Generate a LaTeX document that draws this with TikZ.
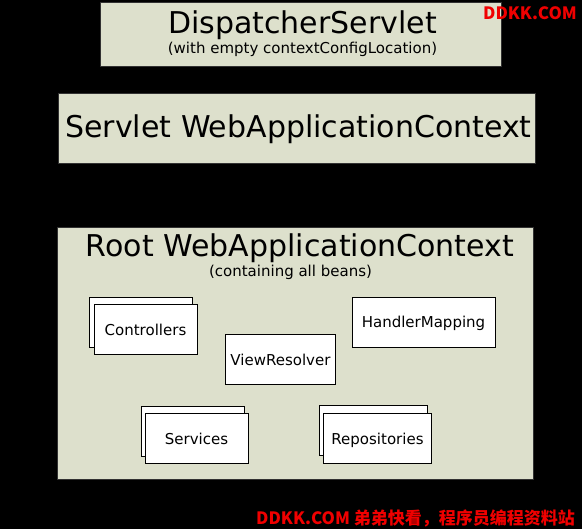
\documentclass[tikz,border=0pt]{standalone}
\usepackage{fontspec}
\setmainfont{DejaVu Sans}
\newfontfamily\cjk{Noto Sans CJK SC}
\definecolor{ctxfill}{RGB}{221,224,204}
\definecolor{ctxline}{RGB}{50,50,50}
\definecolor{wm}{RGB}{240,0,0}
\begin{document}
\begin{tikzpicture}[x=1pt,y=-1pt,
  ctx/.style={draw=ctxline, line width=1pt, fill=ctxfill, inner sep=0pt, anchor=north west},
  bean/.style={draw=black, line width=1pt, fill=white, inner sep=0pt, anchor=north west},
  big/.style={font=\fontsize{30}{30}\selectfont, anchor=base, inner sep=0pt},
  sub/.style={font=\fontsize{15}{15}\selectfont, anchor=base, inner sep=0pt},
  lbl/.style={font=\fontsize{15}{15}\selectfont, text height=11pt, text depth=0pt, inner sep=0pt},
  wmark/.style={font=\cjk\bfseries\fontsize{17}{17}\selectfont, text=wm, inner sep=0pt}]
\fill[black] (0,0) rectangle (582,529);
\useasboundingbox (0,0) rectangle (582,529);
% context boxes
\node[ctx, minimum width=401pt, minimum height=64pt] (disp) at (100,2.5) {};
\node[ctx, minimum width=477pt, minimum height=70pt] (servlet) at (58,93.5) {};
\node[ctx, minimum width=476pt, minimum height=252pt] (root) at (57,227.5) {};
% titles
\node[big] (dispT) at (302.5,33.5) {DispatcherServlet};
\node[sub] (dispS) at (302.5,53.5) {(with empty contextConfigLocation)};
\node[big] (servT) at (298.5,138) {Servlet WebApplicationContext};
\node[big] (rootT) at (300,257) {Root WebApplicationContext};
\node[sub] (rootS) at (290.5,277) {(containing all beans)};
% beans
\node[bean, minimum width=103pt, minimum height=50pt] (ctrlB) at (89,297) {};
\node[bean, minimum width=103pt, minimum height=50pt] (ctrl) at (93.5,304.5) {};
\node[lbl] (ctrlT) at (ctrl.center) {Controllers};
\node[bean, minimum width=143pt, minimum height=50pt] (hm) at (351.5,297) {};
\node[lbl] (hmT) at (hm.center) {HandlerMapping};
\node[bean, minimum width=110pt, minimum height=50pt] (vr) at (225,334.5) {};
\node[lbl] (vrT) at (vr.center) {ViewResolver};
\node[bean, minimum width=103pt, minimum height=50pt] (svcB) at (140.5,406.5) {};
\node[bean, minimum width=103pt, minimum height=50pt] (svc) at (144.5,413.5) {};
\node[lbl] (svcT) at (svc.center) {Services};
\node[bean, minimum width=108pt, minimum height=50pt] (repoB) at (318.5,405.5) {};
\node[bean, minimum width=108pt, minimum height=50pt] (repo) at (323,413.5) {};
\node[lbl] (repoT) at (repo.center) {Repositories};
% watermarks
\node[wmark] (wm1) at (530,13) {DDKK.COM};
\node[wmark, anchor=west] (wm2) at (256,518.5) {DDKK.COM 弟弟快看，程序员编程资料站};
\end{tikzpicture}
\end{document}
